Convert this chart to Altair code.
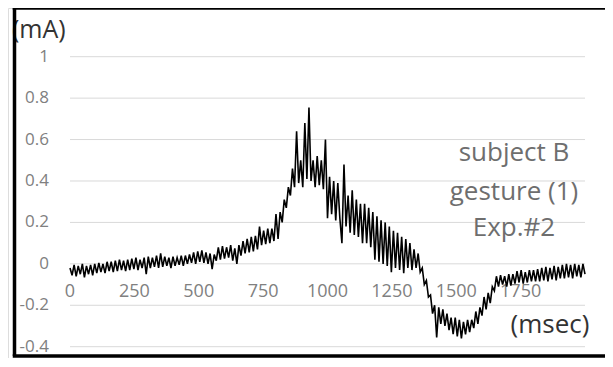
import altair as alt
import pandas as pd

# signal values (mA), one every 8 ms from 0 to 2000 ms
current = [
    -0.02, -0.055, -0.005, -0.06, -0.01, -0.05, 0.0, -0.065, -0.01, -0.05,
    -0.005, -0.055, 0.0, -0.045, 0.005, -0.04, 0.0, -0.045, 0.01, -0.035,
    0.01, -0.04, 0.015, -0.035, 0.02, -0.03, 0.015, -0.035, 0.02, -0.03,
    0.025, -0.025, 0.03, -0.03, 0.02, -0.02, 0.03, -0.05, 0.035, -0.02,
    0.03, -0.015, 0.04, -0.02, 0.05, -0.015, 0.035, -0.01, 0.03, -0.02,
    0.035, -0.01, 0.03, -0.005, 0.04, -0.01, 0.04, 0.0, 0.045, 0.005,
    0.055, 0.0, 0.06, 0.01, 0.065, 0.005, 0.055, 0.0, 0.05, -0.025,
    0.045, 0.015, 0.08, 0.02, 0.085, 0.025, 0.08, 0.03, 0.09, 0.015,
    0.075, 0.0, 0.09, 0.04, 0.11, 0.05, 0.12, 0.055, 0.13, 0.06,
    0.135, 0.07, 0.18, 0.09, 0.16, 0.095, 0.17, 0.1, 0.17, 0.11,
    0.24, 0.12, 0.25, 0.2, 0.31, 0.27, 0.37, 0.33, 0.46, 0.37,
    0.64, 0.39, 0.5, 0.37, 0.68, 0.41, 0.755, 0.4, 0.5, 0.37,
    0.52, 0.38, 0.5, 0.36, 0.6, 0.22, 0.42, 0.24, 0.4, 0.21,
    0.39, 0.22, 0.1, 0.48, 0.18, 0.33, 0.15, 0.355, 0.14, 0.31,
    0.13, 0.29, 0.1, 0.29, 0.1, 0.27, 0.08, 0.25, 0.02, 0.23,
    0.01, 0.21, 0.0, 0.2, -0.01, 0.18, -0.04, 0.16, -0.02, 0.15,
    -0.03, 0.13, -0.045, 0.12, -0.02, 0.1, -0.03, 0.07, -0.02, 0.05,
    -0.04, -0.02, -0.1, -0.08, -0.16, -0.15, -0.24, -0.2, -0.355, -0.21,
    -0.29, -0.22, -0.3, -0.24, -0.32, -0.26, -0.34, -0.26, -0.35, -0.27,
    -0.36, -0.28, -0.34, -0.27, -0.33, -0.27, -0.31, -0.23, -0.29, -0.21,
    -0.25, -0.16, -0.22, -0.14, -0.19, -0.11, -0.13, -0.06, -0.11, -0.055,
    -0.1, -0.06, -0.11, -0.05, -0.105, -0.05, -0.095, -0.035, -0.09, -0.03,
    -0.095, -0.04, -0.09, -0.03, -0.085, -0.03, -0.085, -0.025, -0.085, -0.02,
    -0.08, -0.015, -0.085, -0.02, -0.075, -0.01, -0.08, -0.015, -0.07, -0.005,
    -0.07, 0.0, -0.065, -0.005, -0.07, 0.0, -0.06, -0.005, -0.065, 0.0,
    -0.05,
]
time_ms = [i * 8 for i in range(len(current))]

y_ticks = [1.0, 0.8, 0.6, 0.4, 0.2, 0.0, -0.2, -0.4]
y_tick_labels = ["1", "0.8", "0.6", "0.4", "0.2", "0", "-0.2", "-0.4"]
x_ticks = [0, 250, 500, 750, 1000, 1250, 1500, 1750]
x_tick_labels = ["0", "250", "500", "750", "1000", "1250", "1500", "1750"]
annotation_lines = ["subject B", "gesture (1)", "Exp.#2"]

FONT = "Open Sans"
W, H = 597, 350

xs = alt.Scale(domain=[0, 2000], range=[62, 577])
ys = alt.Scale(domain=[-0.4, 1.0], range=[338.7, 48.7])

sig = pd.DataFrame({"t": time_ms, "v": current})
grid = pd.DataFrame({"y": y_ticks, "x0": [0] * len(y_ticks), "x1": [2000] * len(y_ticks),
                     "lab": y_tick_labels})
xlab = pd.DataFrame({"x": x_ticks, "lab": x_tick_labels})
ann = pd.DataFrame({"line": annotation_lines, "ypix": [145, 184, 220]})

gridlines = alt.Chart(grid).mark_rule(color="#d9d9d9", strokeWidth=1).encode(
    x=alt.X("x0:Q", scale=xs, axis=None),
    x2="x1:Q",
    y=alt.Y("y:Q", scale=ys, axis=None),
)

ylabels = alt.Chart(grid).mark_text(
    align="right", baseline="middle", font=FONT, fontSize=17, color="#808080"
).encode(
    x=alt.value(41),
    y=alt.Y("y:Q", scale=ys, axis=None),
    text="lab:N",
)

xlabels = alt.Chart(xlab).mark_text(
    align="center", baseline="middle", font=FONT, fontSize=18, color="#808080"
).encode(
    x=alt.X("x:Q", scale=xs, axis=None),
    y=alt.value(284.3),
    text="lab:N",
)

line = alt.Chart(sig).mark_line(color="black", strokeWidth=1.6).encode(
    x=alt.X("t:Q", scale=xs, axis=None),
    y=alt.Y("v:Q", scale=ys, axis=None),
)

unit_y = alt.Chart(pd.DataFrame({"s": ["(mA)"]})).mark_text(
    align="left", baseline="middle", font=FONT, fontSize=25, color="#333333"
).encode(x=alt.value(4), y=alt.value(21.5), text="s:N")

unit_x = alt.Chart(pd.DataFrame({"s": ["(msec)"]})).mark_text(
    align="center", baseline="middle", font=FONT, fontSize=26, color="#333333"
).encode(x=alt.value(542), y=alt.value(317), text="s:N")

note = alt.Chart(ann).mark_text(
    align="center", baseline="middle", font=FONT, fontSize=26, color="#6e6e6e"
).encode(x=alt.value(506), y=alt.Y("ypix:Q", scale=None), text="line:N")

border_df = pd.DataFrame({"k": [0]})
b_left = alt.Chart(border_df).mark_rule(color="black", strokeWidth=3.5).encode(
    x=alt.value(6.5), y=alt.value(0), y2=alt.value(H - 2))
b_top = alt.Chart(border_df).mark_rule(color="black", strokeWidth=3.5).encode(
    x=alt.value(4.75), x2=alt.value(W), y=alt.value(0))
b_bottom = alt.Chart(border_df).mark_rule(color="black", strokeWidth=3.5).encode(
    x=alt.value(4.75), x2=alt.value(W), y=alt.value(H - 2))

chart = alt.layer(
    gridlines, ylabels, xlabels, line, unit_y, unit_x, note,
    b_left, b_top, b_bottom,
).properties(
    width=W, height=H, autosize=alt.AutoSizeParams(type="none"), padding=0,
).configure_view(stroke=None).configure(background="white")

chart.save("out.html", embed_options={"renderer": "svg", "actions": False})
